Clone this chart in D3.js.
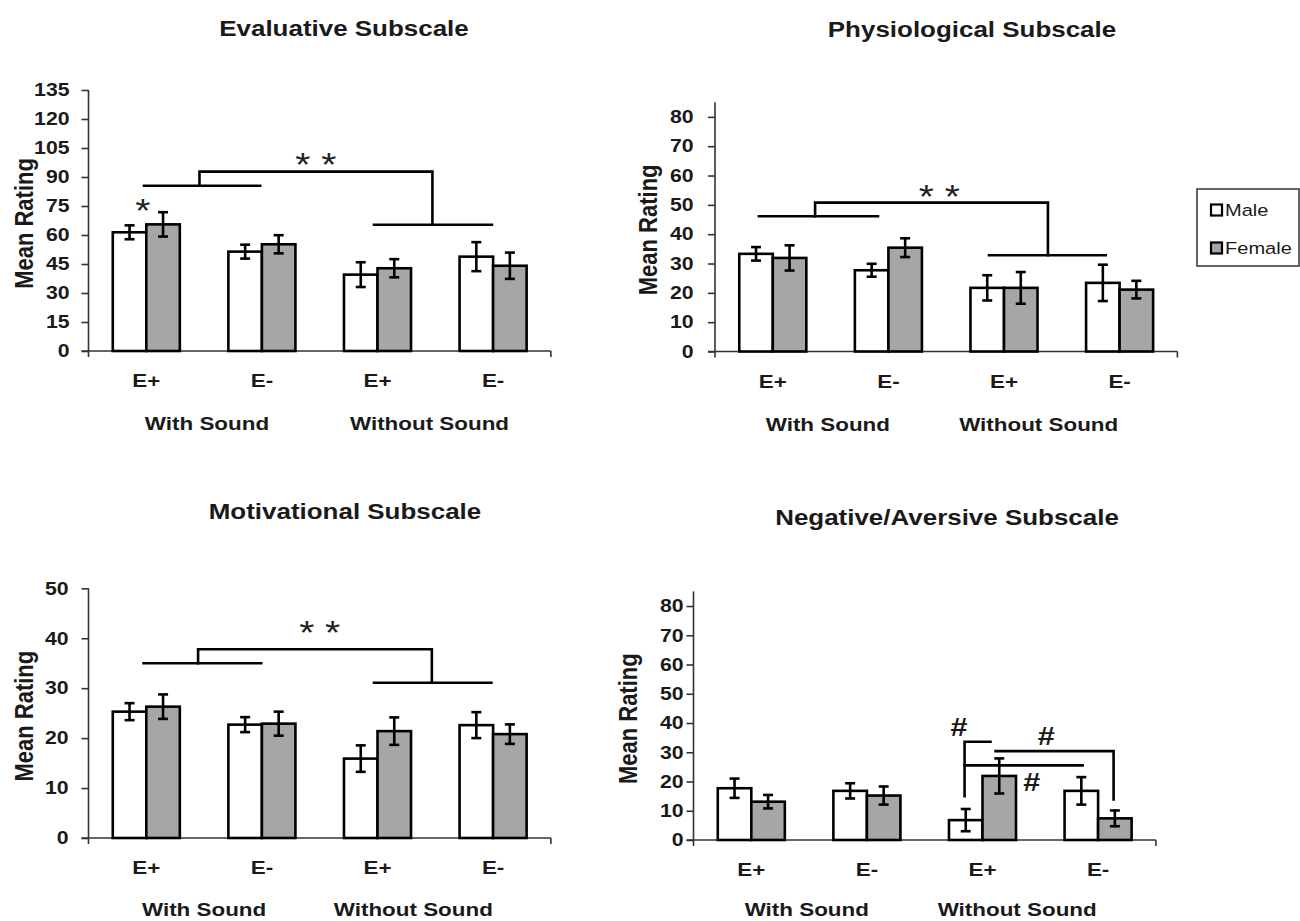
<!DOCTYPE html>
<html><head><meta charset="utf-8">
<script src="https://cdn.jsdelivr.net/npm/d3@7"></script>
<style>
body{margin:0;background:#fff}
svg{display:block}
text{font-family:"Liberation Sans",Arial,Helvetica,sans-serif;fill:#1a1a1a}
</style>
</head><body>
<svg id="chart" width="1300" height="921"></svg>
<script>
// ---------- DATA ----------
const categories = ["E+", "E-", "E+", "E-"];
const conditions = ["With Sound", "Without Sound"];
const genders = ["Male", "Female"];

const evalTicks = [0, 15, 30, 45, 60, 75, 90, 105, 120, 135];
const evalMale = [61.4, 51.4, 39.5, 48.8];
const evalMaleErr = [3.6, 3.6, 6.4, 7.5];
const evalFemale = [65.5, 55.2, 42.8, 44.1];
const evalFemaleErr = [6.3, 4.7, 4.7, 6.8];

const physTicks = [0, 10, 20, 30, 40, 50, 60, 70, 80];
const physMale = [33.3, 27.7, 21.7, 23.4];
const physMaleErr = [2.3, 2.2, 4.3, 6.2];
const physFemale = [31.9, 35.4, 21.7, 21.1];
const physFemaleErr = [4.3, 3.2, 5.4, 3.0];

const motTicks = [0, 10, 20, 30, 40, 50];
const motMale = [25.3, 22.7, 15.9, 22.6];
const motMaleErr = [1.7, 1.5, 2.65, 2.6];
const motFemale = [26.3, 22.9, 21.4, 20.8];
const motFemaleErr = [2.45, 2.4, 2.75, 1.95];

const negTicks = [0, 10, 20, 30, 40, 50, 60, 70, 80];
const negMale = [17.7, 16.8, 6.8, 16.8];
const negMaleErr = [3.3, 2.6, 3.8, 4.7];
const negFemale = [13.1, 15.2, 21.9, 7.4];
const negFemaleErr = [2.3, 3.1, 6.0, 2.7];

// significance annotations: [group-index offset, value]
const evalBrackets = [
  [[-0.02, 85.5], [0.985, 85.5]],
  [[0.46, 85.5], [0.46, 92.8], [2.475, 92.8], [2.475, 65.3]],
  [[1.97, 65.3], [2.99, 65.3]]
];
const evalMarks = [["* *", 1.466, 100.5], ["*", -0.03, 76.4]];

const physBrackets = [
  [[-0.12, 46.1], [0.91, 46.1]],
  [[0.366, 46.1], [0.366, 50.75], [2.38, 50.75], [2.38, 32.8]],
  [[1.87, 32.8], [2.88, 32.8]]
];
const physMarks = [["* *", 1.44, 55.5]];

const motBrackets = [
  [[-0.024, 35], [0.994, 35]],
  [[0.448, 35], [0.448, 37.8], [2.47, 37.8], [2.47, 31.1]],
  [[1.97, 31.1], [2.985, 31.1]]
];
const motMarks = [["* *", 1.5, 42.6]];

const negBrackets = [
  [[1.845, 15.0], [1.845, 33.6], [2.069, 33.6]],
  [[1.845, 25.5], [2.866, 25.5]],
  [[2.113, 30.4], [3.134, 30.4], [3.134, 13.9]]
];
const negMarks = [["#", 1.797, 38.7], ["#", 2.552, 35.7], ["#", 2.427, 19.7]];

// ---------- LAYOUT ----------
const SX = 1.18; // horizontal stretch of the original figure's text
const svg = d3.select("#chart");

const panels = [
  { title: "Evaluative Subscale", titleX: 344, titleY: 36,
    left: 88.5, bottom: 351, topAtMax: 90, max: 135, ticks: evalTicks, pad: 12,
    ylabX: 32.5, condT: [0.525, 2.45], condDy: 79,
    male: evalMale, maleErr: evalMaleErr, female: evalFemale, femaleErr: evalFemaleErr,
    brackets: evalBrackets, marks: evalMarks },
  { title: "Physiological Subscale", titleX: 972, titleY: 37,
    left: 715, bottom: 351.5, topAtMax: 102.2, max: 85, ticks: physTicks, pad: 14.5,
    ylabX: 656.5, condT: [0.476, 2.30], condDy: 79,
    male: physMale, maleErr: physMaleErr, female: physFemale, femaleErr: physFemaleErr,
    brackets: physBrackets, marks: physMarks },
  { title: "Motivational Subscale", titleX: 345, titleY: 519,
    left: 88.5, bottom: 838, topAtMax: 588.3, max: 50, ticks: motTicks, pad: 13,
    ylabX: 33.3, condT: [0.5, 2.31], condDy: 78,
    male: motMale, maleErr: motMaleErr, female: motFemale, femaleErr: motFemaleErr,
    brackets: motBrackets, marks: motMarks },
  { title: "Negative/Aversive Subscale", titleX: 947, titleY: 525,
    left: 693.5, bottom: 840, topAtMax: 591.4, max: 85, ticks: negTicks, pad: 3,
    ylabX: 637, condT: [0.48, 2.30], condDy: 76,
    male: negMale, maleErr: negMaleErr, female: negFemale, femaleErr: negFemaleErr,
    brackets: negBrackets, marks: negMarks }
];

const STEP = 115.6;
const GRAY = "#a6a6a6";

function stext(g, x, y, str, size, weight, anchor, dy) {
  const t = g.append("text")
    .attr("transform", `translate(${x},${y}) scale(${SX},1)`)
    .attr("text-anchor", anchor || "middle")
    .style("font-size", size + "px")
    .style("font-weight", weight || "bold")
    .text(str);
  if (dy) t.attr("dy", dy);
  return t;
}

function drawPanel(p) {
  const g = svg.append("g");
  const right = p.left + 4 * STEP;
  const x0 = d3.scaleBand().domain(d3.range(categories.length))
    .range([p.left, right]).paddingInner(0.42).paddingOuter(0.21);
  const x1 = d3.scaleBand().domain(genders).range([0, x0.bandwidth()]);
  const y = d3.scaleLinear().domain([0, p.max]).range([p.bottom, p.topAtMax]);
  const cx = t => x0(0) + x0.bandwidth() / 2 + t * x0.step();

  // y axis ticks & labels
  const ax = d3.axisLeft(y).tickValues(p.ticks).tickSizeInner(7).tickSizeOuter(0).tickPadding(p.pad);
  const ag = g.append("g").attr("transform", `translate(${p.left},0)`).call(ax);
  ag.select(".domain").remove();
  ag.attr("font-family", null).attr("font-size", null);
  ag.selectAll(".tick line").attr("stroke", "#333").attr("stroke-width", 1.6);
  ag.selectAll(".tick text").each(function () {
    const t = d3.select(this);
    t.attr("x", (+t.attr("x")) / SX).attr("transform", `scale(${SX},1)`);
  }).attr("fill", "#1a1a1a").style("font-size", "18px").style("font-weight", "bold");

  // axis lines
  g.append("line").attr("x1", p.left).attr("x2", p.left)
    .attr("y1", y(p.max)).attr("y2", p.bottom + 6)
    .attr("stroke", "#333").attr("stroke-width", 1.6);
  g.append("line").attr("x1", p.left - 7).attr("x2", right)
    .attr("y1", p.bottom).attr("y2", p.bottom)
    .attr("stroke", "#333").attr("stroke-width", 1.6);
  g.append("line").attr("x1", right).attr("x2", right)
    .attr("y1", p.bottom).attr("y2", p.bottom + 6)
    .attr("stroke", "#333").attr("stroke-width", 1.6);

  // bars
  const series = [
    { key: "Male", vals: p.male, errs: p.maleErr, fill: "#ffffff" },
    { key: "Female", vals: p.female, errs: p.femaleErr, fill: GRAY }
  ];
  series.forEach(s => {
    const data = s.vals.map((v, i) => ({ i, v, e: s.errs[i] }));
    g.selectAll(null).data(data).enter().append("rect")
      .attr("x", d => x0(d.i) + x1(s.key))
      .attr("y", d => y(d.v))
      .attr("width", x1.bandwidth())
      .attr("height", d => p.bottom - y(d.v))
      .attr("fill", s.fill).attr("stroke", "#000").attr("stroke-width", 2.6);
    const eg = g.selectAll(null).data(data).enter().append("g")
      .attr("stroke", "#000").attr("stroke-width", 2.6);
    const mx = d => x0(d.i) + x1(s.key) + x1.bandwidth() / 2;
    eg.append("line").attr("x1", mx).attr("x2", mx)
      .attr("y1", d => y(d.v + d.e)).attr("y2", d => y(d.v - d.e));
    eg.append("line").attr("x1", d => mx(d) - 5).attr("x2", d => mx(d) + 5)
      .attr("y1", d => y(d.v + d.e)).attr("y2", d => y(d.v + d.e));
    eg.append("line").attr("x1", d => mx(d) - 5).attr("x2", d => mx(d) + 5)
      .attr("y1", d => y(d.v - d.e)).attr("y2", d => y(d.v - d.e));
  });

  // brackets
  const line = d3.line().x(d => cx(d[0])).y(d => y(d[1]));
  g.selectAll(null).data(p.brackets).enter().append("path")
    .attr("d", line).attr("fill", "none").attr("stroke", "#000")
    .attr("stroke-width", 2.6).attr("stroke-linejoin", "miter").attr("stroke-linecap", "square");

  // significance marks
  p.marks.forEach(m => {
    if (m[0] === "#") stext(g, cx(m[1]), y(m[2]), m[0], 26, "bold", "middle", "0.35em");
    else stext(g, cx(m[1]), y(m[2]), m[0], 33, "normal", "middle", "0.58em").style("fill", "#222");
  });

  // category labels
  categories.forEach((c, i) => stext(g, cx(i), p.bottom + 36, c, 19, "bold"));
  conditions.forEach((c, k) => stext(g, cx(p.condT[k]), p.bottom + p.condDy, c, 19, "bold"));

  // title
  stext(g, p.titleX, p.titleY, p.title, 22, "bold");

  // y label
  g.append("text")
    .attr("transform", `translate(${p.ylabX},${(p.bottom + y(p.max)) / 2 + 3}) rotate(-90) scale(1,${SX})`)
    .attr("text-anchor", "middle")
    .style("font-size", "22px").style("font-weight", "bold")
    .text("Mean Rating");
}

panels.forEach(drawPanel);

// legend
const lg = svg.append("g");
lg.append("rect").attr("x", 1197).attr("y", 189).attr("width", 102).attr("height", 77)
  .attr("fill", "none").attr("stroke", "#333").attr("stroke-width", 1.5);
const legY = d3.scalePoint().domain(genders).range([210, 248]);
genders.forEach((gname, i) => {
  lg.append("rect").attr("x", 1211).attr("y", legY(gname) - 5.5).attr("width", 11).attr("height", 11)
    .attr("fill", i === 0 ? "#fff" : GRAY).attr("stroke", "#000").attr("stroke-width", 2.2);
  stext(lg, 1225, legY(gname), gname, 17, "normal", "start", "0.36em");
});
</script>
</body></html>
